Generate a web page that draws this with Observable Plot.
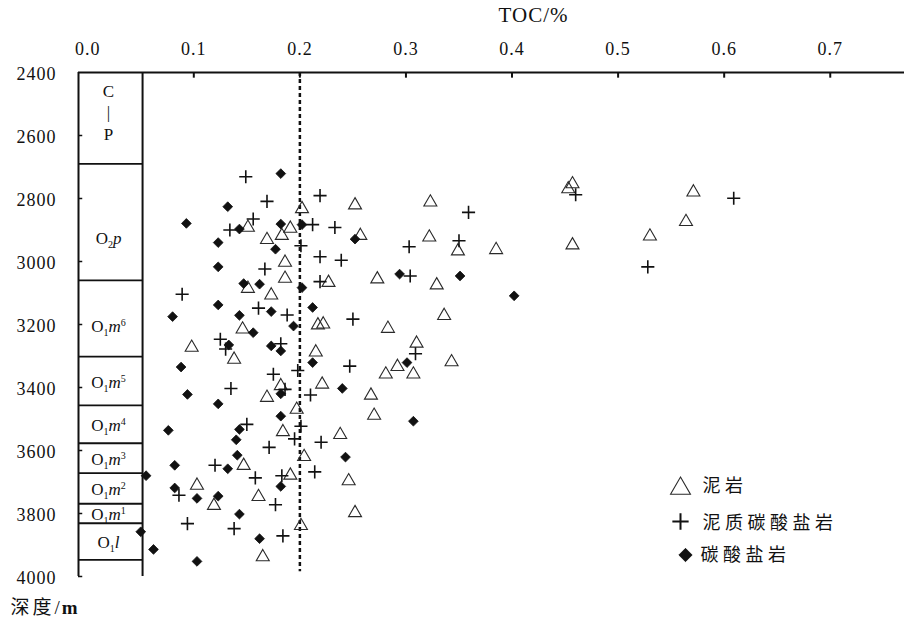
<!DOCTYPE html>
<html><head><meta charset="utf-8">
<script src="https://cdn.jsdelivr.net/npm/d3@7"></script>
<script src="https://cdn.jsdelivr.net/npm/@observablehq/plot@0.6"></script>
<style>
body{margin:0;background:#fff;}
#chart svg{display:block;}
#chart svg text{font-family:'Liberation Serif','Times New Roman',serif !important;}
#chart g[aria-label="x-axis tick label"] text{letter-spacing:1px;}
#chart g[aria-label="y-axis tick label"] text{letter-spacing:1px;}
</style>
</head><body><div id="chart"></div>
<script>
// ---- tick values ----
const xTicks = [0.0, 0.1, 0.2, 0.3, 0.4, 0.5, 0.6, 0.7];
const yTicks = [2400, 2600, 2800, 3000, 3200, 3400, 3600, 3800, 4000];
const xLabel = "TOC/%";
const yLabel = "深度/m";
const refTOC = 0.2;

// ---- series: [TOC %, depth m] ----
const mudstone = [[0.202,2833],[0.151,2892],[0.191,2895],[0.169,2931],[0.183,2918],[0.186,3003],[0.186,3054],[0.227,3067],[0.151,3086],[0.173,3107],[0.217,3202],[0.222,3199],[0.146,3215],[0.098,3273],[0.215,3288],[0.138,3311],[0.221,3390],[0.182,3395],[0.169,3432],[0.197,3470],[0.184,3541],[0.204,3620],[0.147,3648],[0.191,3679],[0.103,3711],[0.119,3775],[0.161,3747],[0.201,3839],[0.165,3938],[0.252,2821],[0.323,2812],[0.257,2918],[0.322,2923],[0.349,2967],[0.273,3056],[0.329,3075],[0.283,3213],[0.336,3172],[0.310,3260],[0.292,3334],[0.281,3358],[0.307,3358],[0.343,3319],[0.267,3425],[0.270,3489],[0.238,3550],[0.246,3697],[0.252,3798],[0.457,2754],[0.453,2770],[0.571,2780],[0.564,2874],[0.530,2920],[0.385,2963],[0.457,2948]];
const marlstone = [[0.149,2731],[0.169,2809],[0.219,2791],[0.156,2865],[0.134,2900],[0.212,2883],[0.201,2950],[0.219,2985],[0.167,3024],[0.219,3064],[0.089,3104],[0.161,3148],[0.188,3170],[0.125,3247],[0.130,3278],[0.182,3261],[0.175,3358],[0.198,3346],[0.186,3406],[0.135,3403],[0.210,3424],[0.150,3517],[0.201,3523],[0.195,3563],[0.220,3574],[0.171,3590],[0.120,3647],[0.158,3687],[0.183,3680],[0.214,3668],[0.086,3742],[0.177,3772],[0.094,3832],[0.138,3848],[0.184,3871],[0.233,2892],[0.303,2953],[0.350,2934],[0.239,2996],[0.304,3046],[0.250,3183],[0.247,3332],[0.309,3293],[0.460,2788],[0.609,2799],[0.359,2844],[0.528,3017]];
const carbonate = [[0.182,2721],[0.132,2826],[0.093,2879],[0.143,2897],[0.182,2881],[0.202,2883],[0.123,2940],[0.177,2961],[0.123,3017],[0.147,3070],[0.162,3072],[0.202,3083],[0.123,3138],[0.173,3159],[0.212,3146],[0.080,3175],[0.143,3171],[0.194,3205],[0.156,3226],[0.133,3265],[0.173,3268],[0.182,3284],[0.212,3321],[0.088,3335],[0.182,3420],[0.094,3422],[0.123,3452],[0.182,3491],[0.076,3536],[0.143,3533],[0.140,3566],[0.141,3615],[0.082,3647],[0.132,3658],[0.055,3680],[0.082,3719],[0.182,3714],[0.103,3752],[0.123,3745],[0.143,3802],[0.050,3858],[0.162,3880],[0.062,3914],[0.103,3952],[0.252,2929],[0.294,3040],[0.351,3046],[0.240,3403],[0.301,3321],[0.307,3507],[0.402,3109],[0.243,3621]];

// ---- legend ----
const legendLabels = ["泥岩", "泥质碳酸盐岩", "碳酸盐岩"];

// ---- stratigraphic column ----
const strataNames   = ["C\n|\nP", "O2p", "O1m6", "O1m5", "O1m4", "O1m3", "O1m2", "O1m1", "O1l"];
const strataTops    = [2400, 2690, 3060, 3302, 3457, 3577, 3672, 3769, 3831];
const strataBottoms = [2690, 3060, 3302, 3457, 3577, 3672, 3769, 3831, 3947];

const xDomain = [-0.0087, 0.77];
const colRight = 0.0517;
const strata = strataNames.map((n, i) => ({name: n, top: strataTops[i], bottom: strataBottoms[i], i}));
const ink = "#111";
const serif = "'Liberation Serif', serif";

const strataText = (filter, dy) => Plot.text(strata.filter(filter), {
  x: (xDomain[0] + colRight) / 2, y: d => (d.top + d.bottom) / 2, text: "name",
  fontSize: 17, lineHeight: 1.27, dx: -2, dy, fill: ink, fontFamily: serif
});
const frameText = (label, opts) => Plot.text([label], {lineAnchor: "middle", fill: ink, ...opts});

const chart = Plot.plot({
  width: 914, height: 624,
  marginTop: 72, marginBottom: 48, marginLeft: 78, marginRight: 10,
  style: {fontFamily: serif, fontSize: "18px", color: ink, background: "#fff"},
  x: {domain: xDomain},
  y: {domain: [2400, 4000], reverse: true},
  marks: [
    Plot.axisX({anchor: "top", ticks: xTicks, tickSize: 0, tickPadding: 18, tickFormat: d => d.toFixed(1), label: null, fontSize: 18, fontFamily: serif}),
    Plot.axisY({anchor: "left", ticks: yTicks, tickSize: 0, tickPadding: 22, tickFormat: d => String(d), label: null, fontSize: 18, fontFamily: serif, dy: 2}),
    // frame
    Plot.ruleY([yTicks[0]], {stroke: ink, strokeWidth: 2}),
    Plot.ruleX([xDomain[0]], {y1: yTicks[0], y2: yTicks[yTicks.length - 1], stroke: ink, strokeWidth: 2}),
    Plot.ruleX([colRight], {y1: yTicks[0], y2: yTicks[yTicks.length - 1], stroke: ink, strokeWidth: 2}),
    // tick marks (inward)
    Plot.ruleX(xTicks.slice(1), {y1: yTicks[0], y2: yTicks[0] + 18, stroke: ink, strokeWidth: 2}),
    Plot.ruleY(yTicks.slice(1), {x1: xDomain[0], x2: xDomain[0] + 0.004, stroke: ink, strokeWidth: 1.5}),
    // strata boundaries and names
    Plot.ruleY(strataBottoms, {x1: xDomain[0], x2: colRight, stroke: ink, strokeWidth: 1.8}),
    strataText(d => d.i === 0, -7),
    strataText(d => d.i === 1, 15),
    strataText(d => d.i === 2, 7),
    strataText(d => d.i > 2, 0),
    // reference line
    Plot.ruleX([refTOC], {y1: yTicks[0], y2: 3985, stroke: ink, strokeWidth: 2.5, strokeDasharray: "4,3"}),
    // data
    Plot.dot(mudstone, {x: "0", y: "1", symbol: "triangle2", r: 6.2, stroke: "#2a2a2a", strokeWidth: 1.1, fill: "none"}),
    Plot.dot(marlstone, {x: "0", y: "1", symbol: "plus", r: 4.3, stroke: ink, strokeWidth: 1.6}),
    Plot.dot(carbonate, {x: "0", y: "1", symbol: "diamond2", r: 4.4, fill: ink, stroke: ink, strokeWidth: 0.8}),
    // axis titles
    frameText(xLabel, {frameAnchor: "top-left", textAnchor: "middle", dx: 455, dy: -57, fontSize: 21, fontFamily: serif}),
    frameText(yLabel, {frameAnchor: "bottom-left", textAnchor: "start", dx: -68, dy: 31, fontSize: 19, fontFamily: serif}),
    // legend
    Plot.dot([legendLabels[0]], {frameAnchor: "top-left", dx: 602, dy: 416, symbol: "triangle2", r: 9.5, stroke: "#2a2a2a", strokeWidth: 1.1, fill: "none"}),
    Plot.dot([legendLabels[1]], {frameAnchor: "top-left", dx: 602, dy: 449, symbol: "plus", r: 5.3, stroke: ink, strokeWidth: 2}),
    Plot.dot([legendLabels[2]], {frameAnchor: "top-left", dx: 607, dy: 482.5, symbol: "diamond2", r: 6.0, fill: ink, stroke: ink, strokeWidth: 0.8}),
    frameText(legendLabels[0], {frameAnchor: "top-left", textAnchor: "start", dx: 624, dy: 414, fontSize: 18}),
    frameText(legendLabels[1], {frameAnchor: "top-left", textAnchor: "start", dx: 624, dy: 451, fontSize: 18}),
    frameText(legendLabels[2], {frameAnchor: "top-left", textAnchor: "start", dx: 622, dy: 482.5, fontSize: 18})
  ]
});

// rich text: subscripts / superscripts / italics
const rich = {
  "O2p":  [["O"],["2","sub"],["p","it"]],
  "O1m6": [["O"],["1","sub"],["m","it"],["6","sup"]],
  "O1m5": [["O"],["1","sub"],["m","it"],["5","sup"]],
  "O1m4": [["O"],["1","sub"],["m","it"],["4","sup"]],
  "O1m3": [["O"],["1","sub"],["m","it"],["3","sup"]],
  "O1m2": [["O"],["1","sub"],["m","it"],["2","sup"]],
  "O1m1": [["O"],["1","sub"],["m","it"],["1","sup"]],
  "O1l":  [["O"],["1","sub"],["l","it"]],
  "深度/m": [["深度","cjk"],["/","plain"],["m","bold"]]
};
const NS = "http://www.w3.org/2000/svg";
const cjk = "'Noto Sans CJK SC', 'Noto Sans CJK JP', sans-serif";
chart.querySelectorAll("text").forEach(el => {
  const t = el.textContent;
  if (legendLabels.includes(t)) {
    el.style.setProperty("font-family", cjk, "important");
    el.style.letterSpacing = "4.5px";
    return;
  }
  if (t === xLabel) { el.style.letterSpacing = "1px"; return; }
  const parts = rich[t];
  if (!parts || el.children.length) return;
  el.textContent = "";
  let shift = 0;
  for (const [s, kind] of parts) {
    const ts = document.createElementNS(NS, "tspan");
    ts.textContent = s;
    const target = kind === "sub" ? 4 : kind === "sup" ? -6 : 0;
    if (target - shift !== 0) ts.setAttribute("dy", target - shift);
    shift = target;
    if (kind === "sub" || kind === "sup") ts.setAttribute("font-size", 10);
    if (kind === "it") ts.setAttribute("font-style", "italic");
    if (kind === "bold") ts.setAttribute("font-weight", "bold");
    if (kind === "cjk") { ts.style.setProperty("font-family", cjk, "important"); ts.setAttribute("letter-spacing", "3"); }
    if (kind === "plain") ts.setAttribute("letter-spacing", "2");
    el.appendChild(ts);
  }
});
document.getElementById("chart").appendChild(chart);
</script>
</body></html>
